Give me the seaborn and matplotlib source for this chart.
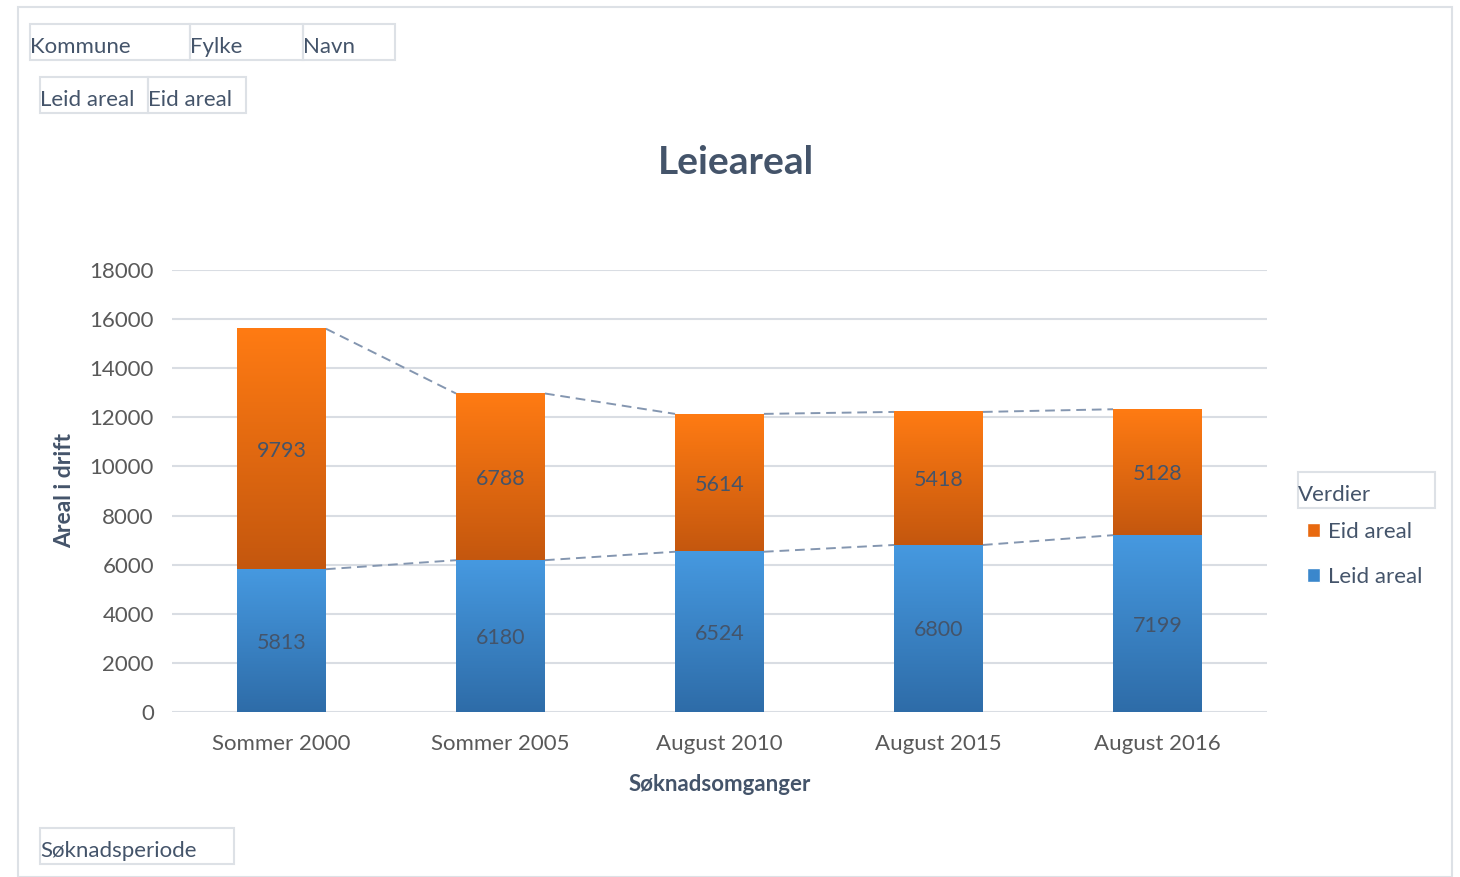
import numpy as np
import pandas as pd
import matplotlib
matplotlib.use('Agg')
import matplotlib.pyplot as plt
import seaborn as sns
from matplotlib.colors import LinearSegmentedColormap
from matplotlib.patches import Rectangle, Patch

# data
periods = ['Sommer 2000', 'Sommer 2005', 'August 2010', 'August 2015', 'August 2016']
leid_areal = [5813, 6180, 6524, 6800, 7199]
eid_areal = [9793, 6788, 5614, 5418, 5128]
y_ticks = [0, 2000, 4000, 6000, 8000, 10000, 12000, 14000, 16000, 18000]

df = pd.DataFrame({'periode': periods, 'Leid areal': leid_areal, 'Eid areal': eid_areal})
df['total'] = df['Leid areal'] + df['Eid areal']

sns.set_theme(style='white')
plt.rcParams['font.family'] = ['Lato', 'DejaVu Sans']

text_col = '#44546A'
tick_col = '#595959'
grid_col = '#D9DDE3'
line_col = '#8496B0'

fig = plt.figure(figsize=(14.6, 8.77), dpi=100)
ax = fig.add_axes([0.1178, 0.1882, 0.75, 0.504])

# total bars first, then leid bars on top (stacked look)
sns.barplot(data=df, x='periode', y='total', color='#F07A1A', width=0.406, ax=ax, zorder=2)
sns.barplot(data=df, x='periode', y='Leid areal', color='#3F8FD6', width=0.406, ax=ax, zorder=3)

n = len(periods)
tot_patches = ax.patches[:n]
leid_patches = ax.patches[n:2 * n]

orange_cm = LinearSegmentedColormap.from_list('or', ['#C4570E', '#FF7B13'])
blue_cm = LinearSegmentedColormap.from_list('bl', ['#2E6CA8', '#4699E0'])
grad = np.linspace(0, 1, 256).reshape(-1, 1)

for i in range(n):
    x0 = tot_patches[i].get_x()
    x1 = x0 + tot_patches[i].get_width()
    ax.imshow(grad, cmap=orange_cm, origin='lower', aspect='auto',
              extent=[x0, x1, leid_areal[i], leid_areal[i] + eid_areal[i]], zorder=4)
    ax.imshow(grad, cmap=blue_cm, origin='lower', aspect='auto',
              extent=[x0, x1, 0, leid_areal[i]], zorder=4)
    tot_patches[i].set_visible(False)
    leid_patches[i].set_visible(False)
    cx = x0 + (x1 - x0) / 2
    ax.text(cx, leid_areal[i] / 2, str(leid_areal[i]), ha='center', va='center_baseline',
            fontsize=15.5, color=text_col, zorder=6)
    ax.text(cx, leid_areal[i] + eid_areal[i] / 2, str(eid_areal[i]), ha='center',
            va='center_baseline', fontsize=15.5, color=text_col, zorder=6)

# series lines between bars
tot = df['total'].tolist()
for i in range(n - 1):
    r = tot_patches[i].get_x() + tot_patches[i].get_width()
    l = tot_patches[i + 1].get_x()
    ax.plot([r, l], [tot[i], tot[i + 1]], ls=(0, (5, 3)), color=line_col, lw=1.4, zorder=5)
    ax.plot([r, l], [leid_areal[i], leid_areal[i + 1]], ls=(0, (5, 3)), color=line_col, lw=1.4, zorder=5)

ax.set_xlim(-0.5, n - 0.5)
ax.set_ylim(0, 18000)
ax.set_yticks(y_ticks)
ax.yaxis.grid(True, color=grid_col, lw=1.5, zorder=0)
ax.set_axisbelow(True)
for s in ax.spines.values():
    s.set_visible(False)
ax.tick_params(axis='both', length=0, labelsize=16, colors=tick_col)
ax.tick_params(axis='y', pad=13)
ax.tick_params(axis='x', pad=16)
ax.set_xlabel('Søknadsomganger', fontsize=16, fontweight='bold', color=text_col, labelpad=14)
ax.set_ylabel('Areal i drift', fontsize=16.5, fontweight='bold', color=text_col, labelpad=10)

fig.text(0.504, 0.815, 'Leieareal', ha='center', va='center', fontsize=28,
         fontweight='bold', color=text_col)

# legend
handles = [Patch(facecolor='#E8690F', label='Eid areal'),
           Patch(facecolor='#3A87CC', label='Leid areal')]
fig.legend(handles=handles, loc='upper left', bbox_to_anchor=(0.8815, 0.428), frameon=False,
           fontsize=16, labelcolor=text_col, handlelength=0.6, handleheight=0.6,
           handletextpad=0.35, labelspacing=1.15)

# chart border and pivot field buttons
W, H = 1460, 877
fig.patches.append(Rectangle((18 / W, 0), (1452 - 18) / W, (877 - 7) / H, transform=fig.transFigure,
                             fill=False, ec='#DDE1E6', lw=1.5))
buttons = [('Kommune', 30, 24, 160), ('Fylke', 190, 24, 113), ('Navn', 303, 24, 92),
           ('Leid areal', 40, 77, 108), ('Eid areal', 148, 77, 98),
           ('Verdier', 1298, 472, 137), ('Søknadsperiode', 40, 828, 194)]
for label, bx, by, bw in buttons:
    fig.patches.append(Rectangle((bx / W, 1 - (by + 36) / H), bw / W, 36 / H,
                                 transform=fig.transFigure, fill=False, ec='#DDE1E6', lw=1.5))
    fig.text(bx / W, 1 - (by + 23) / H, label, ha='left', va='center',
             fontsize=16, color=text_col)

fig.savefig('out.png', dpi=100)
